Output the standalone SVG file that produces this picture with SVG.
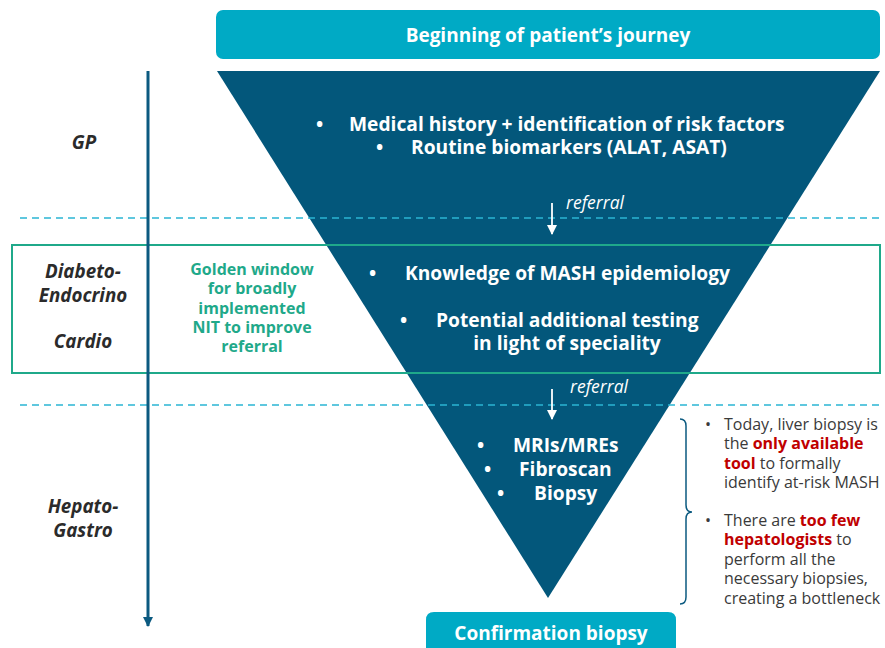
<svg xmlns="http://www.w3.org/2000/svg" width="885" height="648" viewBox="0 0 885 648">
<defs>
<style>
.hdr{font-family:"Open Sans","Liberation Sans",sans-serif;font-weight:bold;font-size:19px;fill:#fff;text-anchor:middle}
.tri{font-family:"Open Sans","Liberation Sans",sans-serif;font-weight:bold;font-size:19.2px;fill:#fff}
.ref{font-family:"Open Sans","Liberation Sans",sans-serif;font-style:italic;font-size:17.5px;fill:#fff}
.spec{font-family:"Open Sans","Liberation Sans",sans-serif;font-style:italic;font-weight:bold;font-size:18.8px;fill:#2b2b2b;text-anchor:middle}
.gold{font-family:"Open Sans","Liberation Sans",sans-serif;font-weight:bold;font-size:16px;fill:#1fa98a;text-anchor:middle}
.note{font-family:"Open Sans","Liberation Sans",sans-serif;font-size:16px;fill:#3a3a3a}
.hl{font-weight:bold;fill:#c00000}
.dash{stroke:#2bb5d3;stroke-width:1.5;stroke-dasharray:7 5;fill:none}
</style>
<marker id="ahDark" viewBox="0 0 10 10" refX="9" refY="5" markerWidth="10" markerHeight="10" markerUnits="userSpaceOnUse" orient="auto">
<path d="M0,0 L10,5 L0,10 Z" fill="#0b5a80"/>
</marker>
<marker id="ahWhite" viewBox="0 0 10 10" refX="9" refY="5" markerWidth="10" markerHeight="10" markerUnits="userSpaceOnUse" orient="auto">
<path d="M0,0 L10,5 L0,10 Z" fill="#fff"/>
</marker>
</defs>
<rect width="885" height="648" fill="#fff"/>

<g id="funnel">
<polygon points="217,71 880,71 548,598" fill="#03577b"/>
</g>

<g id="dividers">
<line x1="20" y1="218" x2="880" y2="218" class="dash"/>
<line x1="20" y1="405" x2="880" y2="405" class="dash"/>
</g>

<g id="golden-window-box">
<rect x="12" y="245" width="868" height="128" fill="none" stroke="#1fa98a" stroke-width="2"/>
</g>

<g id="connectors">
<line x1="148" y1="71" x2="148" y2="626" stroke="#0b5a80" stroke-width="3" marker-end="url(#ahDark)"/>
<line x1="552" y1="203" x2="552" y2="234" stroke="#fff" stroke-width="1.8" marker-end="url(#ahWhite)"/>
<line x1="552" y1="389" x2="552" y2="419" stroke="#fff" stroke-width="1.8" marker-end="url(#ahWhite)"/>
<path d="M680,419 Q686,419 686,426 L686,505 Q686,512 692,512 Q686,512 686,519 L686,597 Q686,604 680,604" fill="none" stroke="#0b5a80" stroke-width="1.5"/>
</g>

<g id="start-box">
<rect x="216" y="10" width="664" height="49" rx="7" fill="#00aac5"/>
<text x="548" y="42" class="hdr">Beginning of patient’s journey</text>
</g>

<g id="end-box">
<path d="M426,648 L426,620 Q426,612 434,612 L668,612 Q676,612 676,620 L676,648 Z" fill="#00aac5"/>
<text x="551" y="640" class="hdr">Confirmation biopsy</text>
</g>

<g id="gp-stage">
<text x="84" y="149" class="spec">GP</text>
<text x="316" y="131" class="tri">•</text>
<text x="349" y="131" class="tri">Medical history + identification of risk factors</text>
<text x="376" y="154" class="tri">•</text>
<text x="411" y="154" class="tri">Routine biomarkers (ALAT, ASAT)</text>
<text x="566" y="209" class="ref">referral</text>
</g>

<g id="specialist-stage">
<text x="83" y="278" class="spec">Diabeto-</text>
<text x="83" y="302" class="spec">Endocrino</text>
<text x="83" y="348" class="spec">Cardio</text>
<text class="gold"><tspan x="252" y="275">Golden window</tspan><tspan x="252" y="294">for broadly</tspan><tspan x="252" y="314">implemented</tspan><tspan x="252" y="333">NIT to improve</tspan><tspan x="252" y="352">referral</tspan></text>
<text x="369" y="280" class="tri">•</text>
<text x="405" y="280" class="tri">Knowledge of MASH epidemiology</text>
<text x="400" y="327" class="tri">•</text>
<text x="436" y="327" class="tri">Potential additional testing</text>
<text x="567" y="350" class="tri" text-anchor="middle">in light of speciality</text>
<text x="570" y="393" class="ref">referral</text>
</g>

<g id="hepato-stage">
<text x="83" y="513" class="spec">Hepato-</text>
<text x="83" y="537" class="spec">Gastro</text>
<text x="477" y="452" class="tri">•</text>
<text x="513" y="452" class="tri">MRIs/MREs</text>
<text x="484" y="476" class="tri">•</text>
<text x="519" y="476" class="tri">Fibroscan</text>
<text x="497" y="500" class="tri">•</text>
<text x="534" y="500" class="tri">Biopsy</text>
</g>

<g id="notes">
<text x="705" y="430" class="note">•</text>
<text class="note"><tspan x="724" y="430">Today, liver biopsy is</tspan><tspan x="724" y="449">the <tspan class="hl">only available</tspan></tspan><tspan x="724" y="469"><tspan class="hl">tool</tspan> to formally</tspan><tspan x="724" y="488">identify at-risk MASH</tspan></text>
<text x="705" y="526" class="note">•</text>
<text class="note"><tspan x="724" y="526">There are <tspan class="hl">too few</tspan></tspan><tspan x="724" y="545"><tspan class="hl">hepatologists</tspan> to</tspan><tspan x="724" y="565">perform all the</tspan><tspan x="724" y="584">necessary biopsies,</tspan><tspan x="724" y="604">creating a bottleneck</tspan></text>
</g>
</svg>
